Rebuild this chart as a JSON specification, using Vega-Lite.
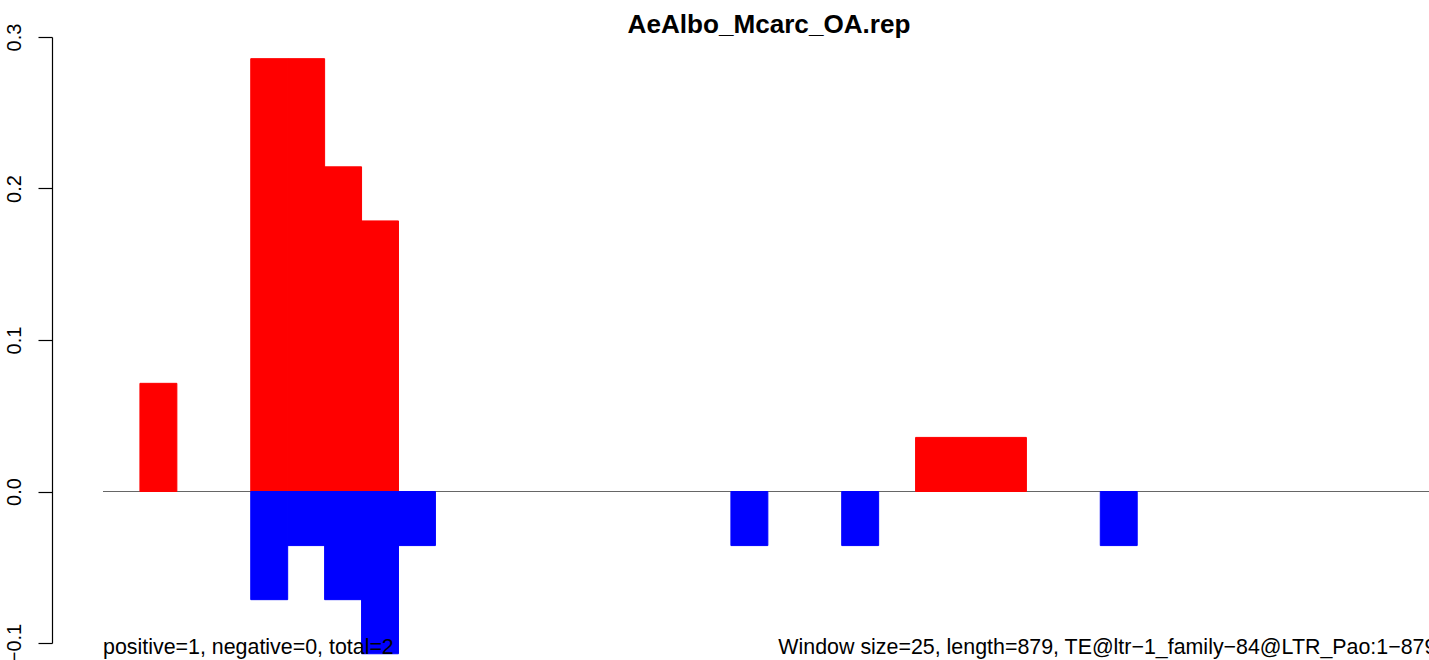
{
  "$schema": "https://vega.github.io/schema/vega-lite/v6.json",
  "autosize": "none",
  "width": 1326,
  "height": 606,
  "padding": {"left": 103, "top": 37, "right": 0, "bottom": 17},
  "background": "white",
  "config": {"view": {"stroke": null}, "font": "Liberation Sans"},
  "title": {
    "text": "AeAlbo_Mcarc_OA.rep",
    "font": "Liberation Sans",
    "fontSize": 26.1,
    "fontWeight": "bold",
    "color": "black",
    "anchor": "middle",
    "offset": 4,
    "dy": 19,
    "dx": 3
  },
  "datasets": {
    "bars": [
      {"win": 1, "win_end": 2, "score": 0.0714, "sign": "positive"},
      {"win": 4, "win_end": 5, "score": 0.2857, "sign": "positive"},
      {"win": 5, "win_end": 6, "score": 0.2857, "sign": "positive"},
      {"win": 6, "win_end": 7, "score": 0.2143, "sign": "positive"},
      {"win": 7, "win_end": 8, "score": 0.1786, "sign": "positive"},
      {"win": 22, "win_end": 23, "score": 0.0357, "sign": "positive"},
      {"win": 23, "win_end": 24, "score": 0.0357, "sign": "positive"},
      {"win": 24, "win_end": 25, "score": 0.0357, "sign": "positive"},
      {"win": 4, "win_end": 5, "score": -0.0714, "sign": "negative"},
      {"win": 5, "win_end": 6, "score": -0.0357, "sign": "negative"},
      {"win": 6, "win_end": 7, "score": -0.0714, "sign": "negative"},
      {"win": 7, "win_end": 8, "score": -0.1071, "sign": "negative"},
      {"win": 8, "win_end": 9, "score": -0.0357, "sign": "negative"},
      {"win": 17, "win_end": 18, "score": -0.0357, "sign": "negative"},
      {"win": 20, "win_end": 21, "score": -0.0357, "sign": "negative"},
      {"win": 27, "win_end": 28, "score": -0.0357, "sign": "negative"}
    ],
    "notes": [
      {"label": "positive=1, negative=0, total=2", "pos": 0, "y": -0.107, "side": "left"},
      {"label": "Window size=25, length=879, TE@ltr\u22121_family\u221284@LTR_Pao:1\u2212879", "pos": 36.1, "y": -0.107, "side": "right"}
    ]
  },
  "layer": [
    {
      "data": {"values": [{"zero": 0}]},
      "mark": {"type": "rule", "color": "#666666", "strokeWidth": 1.2},
      "encoding": {
        "y": {"field": "zero", "type": "quantitative", "scale": {"domain": [-0.1, 0.3], "nice": false, "zero": false}}
      }
    },
    {
      "data": {"name": "bars"},
      "mark": {"type": "rect", "clip": false, "strokeWidth": 1},
      "encoding": {
        "x": {"field": "win", "type": "quantitative", "scale": {"domain": [0, 35.9], "nice": false, "zero": false}, "axis": null},
        "x2": {"field": "win_end"},
        "y": {
          "field": "score",
          "type": "quantitative",
          "scale": {"domain": [-0.1, 0.3], "nice": false, "zero": false},
          "axis": {
            "values": [-0.1, 0, 0.1, 0.2, 0.3],
            "format": ".1f",
            "title": null,
            "offset": 51,
            "grid": false,
            "domainColor": "black",
            "domainWidth": 1.2,
            "tickColor": "black",
            "tickWidth": 1.2,
            "tickSize": 14,
            "labelAngle": -90,
            "labelAlign": "center",
            "labelBaseline": "alphabetic",
            "labelPadding": 18,
            "labelFont": "Liberation Sans",
            "labelFontSize": 20,
            "labelColor": "black",
            "labelFlush": false,
            "labelOverlap": false
          }
        },
        "y2": {"datum": 0},
        "color": {
          "field": "sign",
          "type": "nominal",
          "scale": {"domain": ["positive", "negative"], "range": ["#FF0000", "#0000FF"]},
          "legend": null
        },
        "stroke": {
          "field": "sign",
          "type": "nominal",
          "scale": {"domain": ["positive", "negative"], "range": ["#FF0000", "#0000FF"]},
          "legend": null
        }
      }
    },
    {
      "data": {"name": "notes"},
      "transform": [{"filter": "datum.side === 'left'"}],
      "mark": {"type": "text", "align": "left", "baseline": "alphabetic", "fontSize": 21.4, "font": "Liberation Sans", "color": "black", "clip": false},
      "encoding": {
        "x": {"field": "pos", "type": "quantitative"},
        "y": {"field": "y", "type": "quantitative"},
        "text": {"field": "label"}
      }
    },
    {
      "data": {"name": "notes"},
      "transform": [{"filter": "datum.side === 'right'"}],
      "mark": {"type": "text", "align": "right", "baseline": "alphabetic", "fontSize": 21.4, "font": "Liberation Sans", "color": "black", "clip": false},
      "encoding": {
        "x": {"field": "pos", "type": "quantitative"},
        "y": {"field": "y", "type": "quantitative"},
        "text": {"field": "label"}
      }
    }
  ]
}
